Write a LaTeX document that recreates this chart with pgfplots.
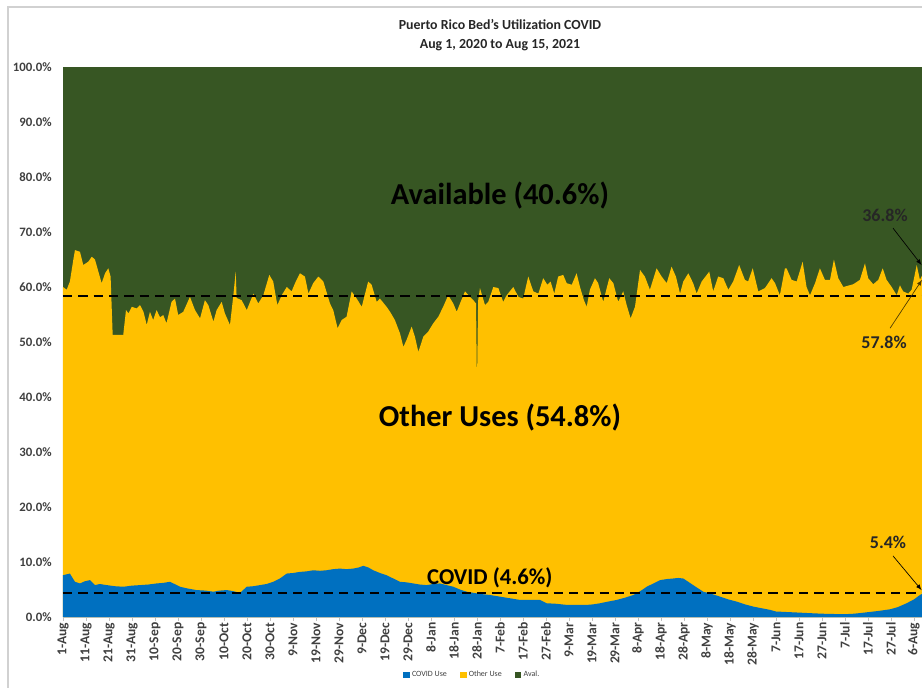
\documentclass[border=0pt]{standalone}
\usepackage{pgfplots}
\pgfplotsset{compat=1.18}
\usepackage{fontspec}
\setmainfont{Carlito}
\definecolor{covidblue}{HTML}{0070C0}
\definecolor{otheryellow}{HTML}{FFC000}
\definecolor{avalgreen}{HTML}{375623}
\definecolor{lbl}{HTML}{404040}
\begin{document}
\begin{tikzpicture}
\useasboundingbox (-47.25pt,-52.5pt) rectangle (644.25pt,462.75pt);
\draw[black!18, line width=0.8pt] (-41.25pt,-60pt) -- (-41.25pt,457.5pt) -- (700pt,457.5pt);
\node[font=\bfseries\fontsize{10.4}{12}\selectfont, text=black!85] at (327.75pt,444pt) {Puerto Rico Bed's Utilization COVID};
\node[font=\bfseries\fontsize{10.4}{12}\selectfont, text=black!85] at (327.75pt,429pt) {Aug 1, 2020 to Aug 15, 2021};
\begin{axis}[
  scale only axis, width=644.25pt, height=412.5pt,
  xmin=0, xmax=373.5, ymin=0, ymax=100,
  axis x line=bottom, axis y line=left,
  x axis line style={draw=black!20, -},
  y axis line style={draw=none, -},
  xtick={0,10,...,370},
  xticklabels={1-Aug,11-Aug,21-Aug,31-Aug,10-Sep,20-Sep,30-Sep,10-Oct,20-Oct,30-Oct,9-Nov,19-Nov,29-Nov,9-Dec,19-Dec,29-Dec,8-Jan,18-Jan,28-Jan,7-Feb,17-Feb,27-Feb,9-Mar,19-Mar,29-Mar,8-Apr,18-Apr,28-Apr,8-May,18-May,28-May,7-Jun,17-Jun,27-Jun,7-Jul,17-Jul,27-Jul,6-Aug},
  x tick label style={rotate=90, anchor=east, font=\bfseries\fontsize{10.2}{12}\selectfont, text=lbl, inner sep=1pt},
  xtick style={draw=black!25, line width=0.6pt},
  tick align=outside,
  major tick length=3pt,
  ytick={0,10,...,100},
  ytick style={draw=none},
  yticklabel={\pgfmathprintnumber[fixed,fixed zerofill,precision=1]{\tick}\%},
  y tick label style={font=\bfseries\fontsize{9.6}{11}\selectfont, text=lbl, xshift=-2pt},
  /pgf/number format/assume math mode=true,
  legend style={at={(0.477,-0.1055)}, anchor=center, draw=none, fill=none,
    font=\fontsize{6}{7}\selectfont, text=lbl, legend columns=3,
    /tikz/every even column/.append style={column sep=8pt}, inner sep=0pt},
  legend image code/.code={\fill[#1] (0pt,-2pt) rectangle (4pt,2pt);},
  clip=true,
]
\addlegendimage{covidblue}
\addlegendentry{COVID Use}
\addlegendimage{otheryellow}
\addlegendentry{Other Use}
\addlegendimage{avalgreen}
\addlegendentry{Aval.}
% Aval. (top of stack = 100%)
\addplot[fill=avalgreen, draw=none, forget plot] coordinates {(0,100) (379,100)} \closedcycle;
% Total used (COVID + Other)
\addplot[fill=otheryellow, draw=none, forget plot] coordinates {
(0,60.0) (1.6,59.5) (3,61) (4.5,65) (5.2,66.7) (7.4,66.4) (8.8,64) (11,64.6) (12.5,65.5) (13.9,65)
(16.8,60.7) (18.3,62.5) (19.7,63.4) (20.7,61.9) (21.6,51.3) (26.2,51.3) (27.4,55.8) (28.5,55.2) (29.9,56.4)
(32,56.1) (33.5,56.7) (35,55.5) (36.4,53.1) (37.8,55.5) (39.2,54) (40.7,55.8) (42.2,54.5) (43.6,54.9)
(45,53.4) (47.2,57.3) (48.7,57.9) (50.1,54.9) (52.3,55.5) (55.2,58.2) (57.4,55.8) (59.6,54.3) (61.7,57.6)
(63.2,56.7) (65.4,53.7) (66.8,55.8) (69,57.3) (70.4,55.2) (72.6,53.1) (74,58.2) (75.1,62.8) (75.5,58)
(77.7,57.6) (79.9,55.8) (82.8,58.8) (84.9,57) (87.1,58.5) (89.7,62.2) (91.4,61) (93.2,56.7) (95.1,58.5)
(97.3,60) (99.4,59.2) (100.9,60.7) (103,62.5) (105.2,61.9) (106.7,58.8) (108.8,60.7) (111,61.9) (113.2,61)
(116.1,57) (117.5,55.8) (119.4,52.5) (121.2,54) (123.3,54.6) (125.5,59.2) (127.7,57.9) (129.9,56.4)
(132.7,61) (134.2,60.4) (136.4,57.3) (137.8,57.9) (140.7,56.4) (142.2,55.5) (144.3,54) (146.5,51.6)
(148,49.1) (149.4,50.4) (151.6,52.8) (153,51) (154.5,48.2) (156.7,51) (158.8,51.9) (161,53.4) (163.2,54.6)
(165.3,56.4) (167.5,58.5) (169.7,57) (171.2,55.5) (172.9,57.3) (174.8,59.2) (177,58.2) (178.4,57.6)
(179.6,57) (179.9,45.5) (180.1,45.5) (180.5,57.5) (181.3,59.8) (183.5,56.7) (184.9,57.3) (187.1,60) (189.3,59.8)
(191.4,57.3) (192.9,58.5) (195.8,60) (198,58.2) (200.1,57.9) (202.3,61.9) (204.5,59.2) (206.7,58.8)
(208.8,61.6) (210.6,60.4) (212,61) (213.6,58.8) (215.3,61.9) (217.5,62.2) (219,60.7) (221.2,60.4)
(223.3,62.5) (224.8,60) (226.5,57.6) (227.7,56.4) (229.1,59.5) (231.3,61.6) (232.7,60.7) (234.9,57.3)
(237.5,61.6) (239.3,60.7) (241.4,57.3) (243.6,59.2) (245.1,56.7) (246.8,54.3) (248.7,56.4) (250.9,63.1)
(253,61.9) (255.2,59.5) (258.1,63.4) (260.3,61.9) (262.5,60.7) (264.6,63.7) (266.5,61.9) (268.3,58.8)
(269.7,61) (271.9,62.5) (274,60.7) (275.5,58.8) (277.7,61) (279.9,62.2) (281,62.8) (282.7,59.2)
(284.9,61.9) (287.1,61.6) (289.3,59.5) (291.4,61) (294,64) (296.5,61.3) (297.9,61) (299.9,63.4)
(302.3,59.2) (305.2,59.8) (308.1,61.6) (309.6,60.7) (311.7,58.5) (313.9,63.4) (314.6,63.4) (316.8,61.3)
(319,61) (321.6,64.6) (323.3,60) (324.8,58.5) (327,60.7) (329.1,63.4) (331.3,61.3) (333.5,61.3)
(335.2,65) (337.1,61.6) (339.3,60) (343.6,60.5) (346.5,61.3) (348.7,64.3) (350.1,61.6) (352.3,60.5)
(354.5,61.3) (356.4,63.4) (358.1,61.3) (360.3,60) (362.5,58.5) (363.9,60.3) (365.3,59.2) (367.5,58.8)
(369,59.5) (371.2,64) (372.6,61.3) (374,62.5) (376,63) (379,63.2)
} \closedcycle;
% COVID use
\addplot[fill=covidblue, draw=none, forget plot] coordinates {
(0,7.6) (3,7.9) (5.2,6.4) (7.4,6.1) (9.5,6.5) (11.7,6.7) (13.9,5.8) (16,6.0) (19,5.8) (22.5,5.6)
(26.2,5.5) (30,5.7) (33.5,5.8) (37,5.9) (40.7,6.1) (43.5,6.2) (46.5,6.4) (49,5.9) (50.9,5.5) (54,5.2)
(58,4.9) (62,4.8) (65.4,4.6) (68,4.8) (71.2,4.9) (74,4.7) (77,4.4) (79.9,5.5) (82.8,5.6) (85.7,5.8)
(88.5,6.0) (91.4,6.4) (94.3,7.0) (97.3,7.9) (100,8.0) (103,8.2) (106,8.3) (108.8,8.5) (111.7,8.4)
(114.6,8.5) (117.5,8.7) (120.4,8.8) (123.3,8.7) (126.2,8.8) (128.5,9.0) (130.6,9.3) (132.8,9.0)
(134.9,8.5) (137.8,8.0) (140.7,7.6) (143.6,7.0) (146.5,6.4) (149.4,6.3) (152.3,6.1) (155.2,5.9)
(158.1,5.8) (161,6.0) (163.9,6.1) (166.8,5.8) (169.7,5.5) (172.6,5.0) (175.5,4.6) (178.4,4.4)
(181.3,4.2) (185.6,4.0) (190,3.7) (194.4,3.4) (198.7,3.1) (203,3.1) (207.4,3.1) (210.3,2.5) (214.6,2.4)
(219,2.2) (223.3,2.2) (227.7,2.2) (230.6,2.3) (233.5,2.5) (237,2.8) (240.7,3.1) (244.3,3.5) (248,4.0)
(251,4.7) (253.8,5.5) (256.7,6.1) (259.6,6.7) (262.5,6.9) (265.3,7.0) (267.5,7.1) (269.7,7.0)
(271.9,6.4) (274,5.8) (276.2,5.2) (278.4,4.6) (282,4.2) (285.7,3.7) (289.3,3.2) (292.9,2.8) (296.5,2.3)
(300.1,1.9) (303.7,1.6) (307.4,1.3) (310,1.0) (315,0.9) (320,0.8) (324.8,0.7) (330,0.6) (335,0.55)
(339.3,0.5) (344,0.6) (349.4,0.85) (354.5,1.1) (359.6,1.4) (363,1.8) (366.8,2.5) (370,3.2) (372.6,4.0)
(376,4.8) (379,5.4)
} \closedcycle;
% average lines
\draw[black, line width=1.5pt, dash pattern=on 7pt off 4.5pt] (axis cs:0,58.3) -- (axis cs:379,58.3);
\draw[black, line width=1.5pt, dash pattern=on 7pt off 4.5pt] (axis cs:0,4.4) -- (axis cs:379,4.4);
% labels
\node[font=\bfseries\fontsize{22.8}{26}\selectfont, text=black] at (axis cs:190,76.7) {Available (40.6\%)};
\node[font=\bfseries\fontsize{22.8}{26}\selectfont, text=black] at (axis cs:190,36.2) {Other Uses (54.8\%)};
\node[font=\bfseries\fontsize{17}{20}\selectfont, text=black] at (axis cs:185.6,7.1) {COVID (4.6\%)};
\node[font=\bfseries\fontsize{13.5}{16}\selectfont, text=black!85] at (axis cs:357.4,73.1) {36.8\%};
\node[font=\bfseries\fontsize{13.5}{16}\selectfont, text=black!85] at (axis cs:357,50) {57.8\%};
\node[font=\bfseries\fontsize{13.5}{16}\selectfont, text=black!85] at (axis cs:358.7,13.5) {5.4\%};
\draw[-latex, black, line width=0.5pt] (axis cs:360.9,70.7) -- (axis cs:373.3,64.0);
\draw[-latex, black!70!otheryellow, line width=0.5pt] (axis cs:359.6,52.5) -- (axis cs:373.5,61.3);
\draw[-latex, black, line width=0.5pt] (axis cs:360.9,11.1) -- (axis cs:373.3,4.9);
\end{axis}
\end{tikzpicture}
\end{document}
